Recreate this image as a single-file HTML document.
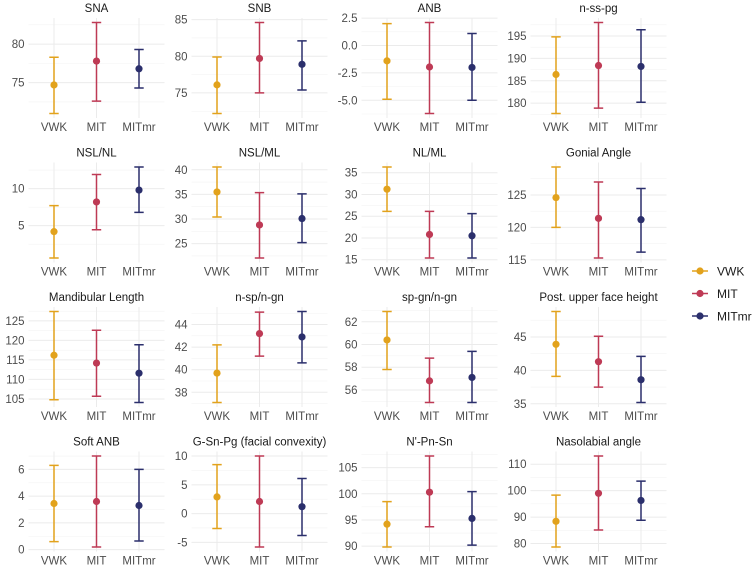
<!DOCTYPE html>
<html><head><meta charset="utf-8"><style>
html,body{margin:0;padding:0;background:#fff}
svg{display:block;font-family:"Liberation Sans",Arial,sans-serif}
</style></head><body>
<svg id="chart" width="756" height="566" viewBox="0 0 756 566" xmlns="http://www.w3.org/2000/svg"></svg>
<script>
const panelTitles = ["SNA","SNB","ANB","n-ss-pg","NSL/NL","NSL/ML","NL/ML","Gonial Angle","Mandibular Length","n-sp/n-gn","sp-gn/n-gn","Post. upper face height","Soft ANB","G-Sn-Pg (facial convexity)","N'-Pn-Sn","Nasolabial angle"];
const groups = ["VWK","MIT","MITmr"];
const groupColors = ["#E2A21C","#BE3A55","#2B2F6C"];
const vwkMean = [74.7,76.1,-1.4,186.4,4.2,35.5,31.2,124.6,116.2,39.7,60.4,43.9,3.45,2.9,94.2,88.4];
const vwkLow  = [71.0,72.2,-4.9,177.7,0.65,30.4,26.1,120.0,104.8,37.1,57.8,39.1,0.6,-2.6,89.85,78.7];
const vwkHigh = [78.3,79.9,2.0,194.8,7.7,40.55,36.3,129.3,127.4,42.2,62.9,48.8,6.3,8.5,98.5,98.3];
const mitMean = [77.8,79.7,-1.96,188.4,8.2,28.8,20.8,121.4,114.2,43.2,56.8,41.3,3.6,2.1,100.3,99.0];
const mitLow  = [72.6,75.0,-6.2,178.9,4.45,22.1,15.4,115.3,105.7,41.2,54.9,37.5,0.2,-5.8,93.7,85.1];
const mitHigh = [82.8,84.6,2.1,198.0,11.9,35.35,26.1,127.0,122.6,45.1,58.8,45.1,7.0,10.0,107.2,113.1];
const mrMean  = [76.8,78.9,-2.0,188.2,9.8,30.1,20.5,121.2,111.6,42.9,57.1,38.6,3.3,1.2,95.3,96.3];
const mrLow   = [74.3,75.4,-5.0,180.2,6.8,25.2,15.4,116.2,104.1,40.6,54.9,35.2,0.65,-3.8,90.2,88.8];
const mrHigh  = [79.3,82.1,1.1,196.4,12.9,35.1,25.6,126.0,118.9,45.15,59.4,42.1,6.0,6.1,100.4,103.6];
const tickValues = [[75,80],[75,80,85],[-5,-2.5,0,2.5],[180,185,190,195],[5,10],[25,30,35,40],[15,20,25,30,35],[115,120,125],[105,110,115,120,125],[38,40,42,44],[56,58,60,62],[35,40,45],[0,2,4,6],[-5,0,5,10],[90,95,100,105],[80,90,100,110]];
const tickLabels = [["75","80"],["75","80","85"],["-5.0","-2.5","0.0","2.5"],["180","185","190","195"],["5","10"],["25","30","35","40"],["15","20","25","30","35"],["115","120","125"],["105","110","115","120","125"],["38","40","42","44"],["56","58","60","62"],["35","40","45"],["0","2","4","6"],["-5","0","5","10"],["90","95","100","105"],["80","90","100","110"]];

const NS="http://www.w3.org/2000/svg";
const svg=document.getElementById('chart');
function mk(tag,attrs,parent){const e=document.createElementNS(NS,tag);for(const k in attrs)e.setAttribute(k,attrs[k]);(parent||svg).appendChild(e);return e;}
const colRight=[164.5,327.5,497.5,666.5];
const plotW=136, plotH=100, sp=plotW/3.2;
const means=[vwkMean,mitMean,mrMean], lows=[vwkLow,mitLow,mrLow], highs=[vwkHigh,mitHigh,mrHigh];

for(let p=0;p<16;p++){
  const r=Math.floor(p/4), c=p%4;
  const top=18+144.5*r, bottom=top+plotH, right=colRight[c], left=right-plotW;
  const g=mk('g',{});
  
  
  let lo=Math.min(vwkLow[p],mitLow[p],mrLow[p]), hi=Math.max(vwkHigh[p],mitHigh[p],mrHigh[p]);
  const ex=(hi-lo)*0.05; lo-=ex; hi+=ex;
  const y=v=>bottom-(v-lo)/(hi-lo)*plotH;
  const x=i=>left+(i+0.6)*sp;
  const tv=tickValues[p]; const step=tv[1]-tv[0];
  for(let m=tv[0]-step/2;m<=hi;m+=step){ if(m>=lo){const l=mk('line',{x1:left,x2:right,y1:y(m),y2:y(m),stroke:'#f3f3f3','stroke-width':0.6},g);}}
  tv.forEach((v,k)=>{ if(v<lo||v>hi)return;
    const l=mk('line',{x1:left,x2:right,y1:y(v),y2:y(v),stroke:'#ebebeb','stroke-width':1},g);
    
    const t=mk('text',{x:left-4,y:y(v)+4,'text-anchor':'end','font-size':11.5,fill:'#4d4d4d'},g);
    t.textContent=tickLabels[p][k];
    
  });
  groups.forEach((gn,i)=>{
    const l=mk('line',{x1:x(i),x2:x(i),y1:top,y2:bottom,stroke:'#ebebeb','stroke-width':1},g);
    
    const t=mk('text',{x:x(i),y:bottom+13,'text-anchor':'middle','font-size':11.5,fill:'#4d4d4d'},g);
    t.textContent=gn;
    
  });
  const tt=mk('text',{x:(left+right)/2,y:top-6,'text-anchor':'middle','font-size':11.5,fill:'#1a1a1a'},g);
  tt.textContent=panelTitles[p];
  
  groups.forEach((gn,i)=>{
    const col=groupColors[i], xi=x(i), yl=y(lows[i][p]), yh=y(highs[i][p]);
    const eb=mk('path',{d:`M${xi-4.7},${yh}H${xi+4.7}M${xi},${yh}V${yl}M${xi-4.7},${yl}H${xi+4.7}`,stroke:col,'stroke-width':1.5,fill:'none'},g);
    
    const pt=mk('circle',{cx:xi,cy:y(means[i][p]),r:3.6,fill:col},g);
    
  });
}
const lg=mk('g',{});

groups.forEach((gn,i)=>{
  const yy=271+22.5*i;
  const e=mk('g',{},lg);
  
  mk('line',{x1:692,x2:708,y1:yy,y2:yy,stroke:groupColors[i],'stroke-width':1.5},e);
  mk('circle',{cx:700,cy:yy,r:3.6,fill:groupColors[i]},e);
  const t=mk('text',{x:717,y:yy+4.5,'font-size':12,fill:'#1a1a1a'},e);
  t.textContent=gn;
});
</script>
</body></html>
